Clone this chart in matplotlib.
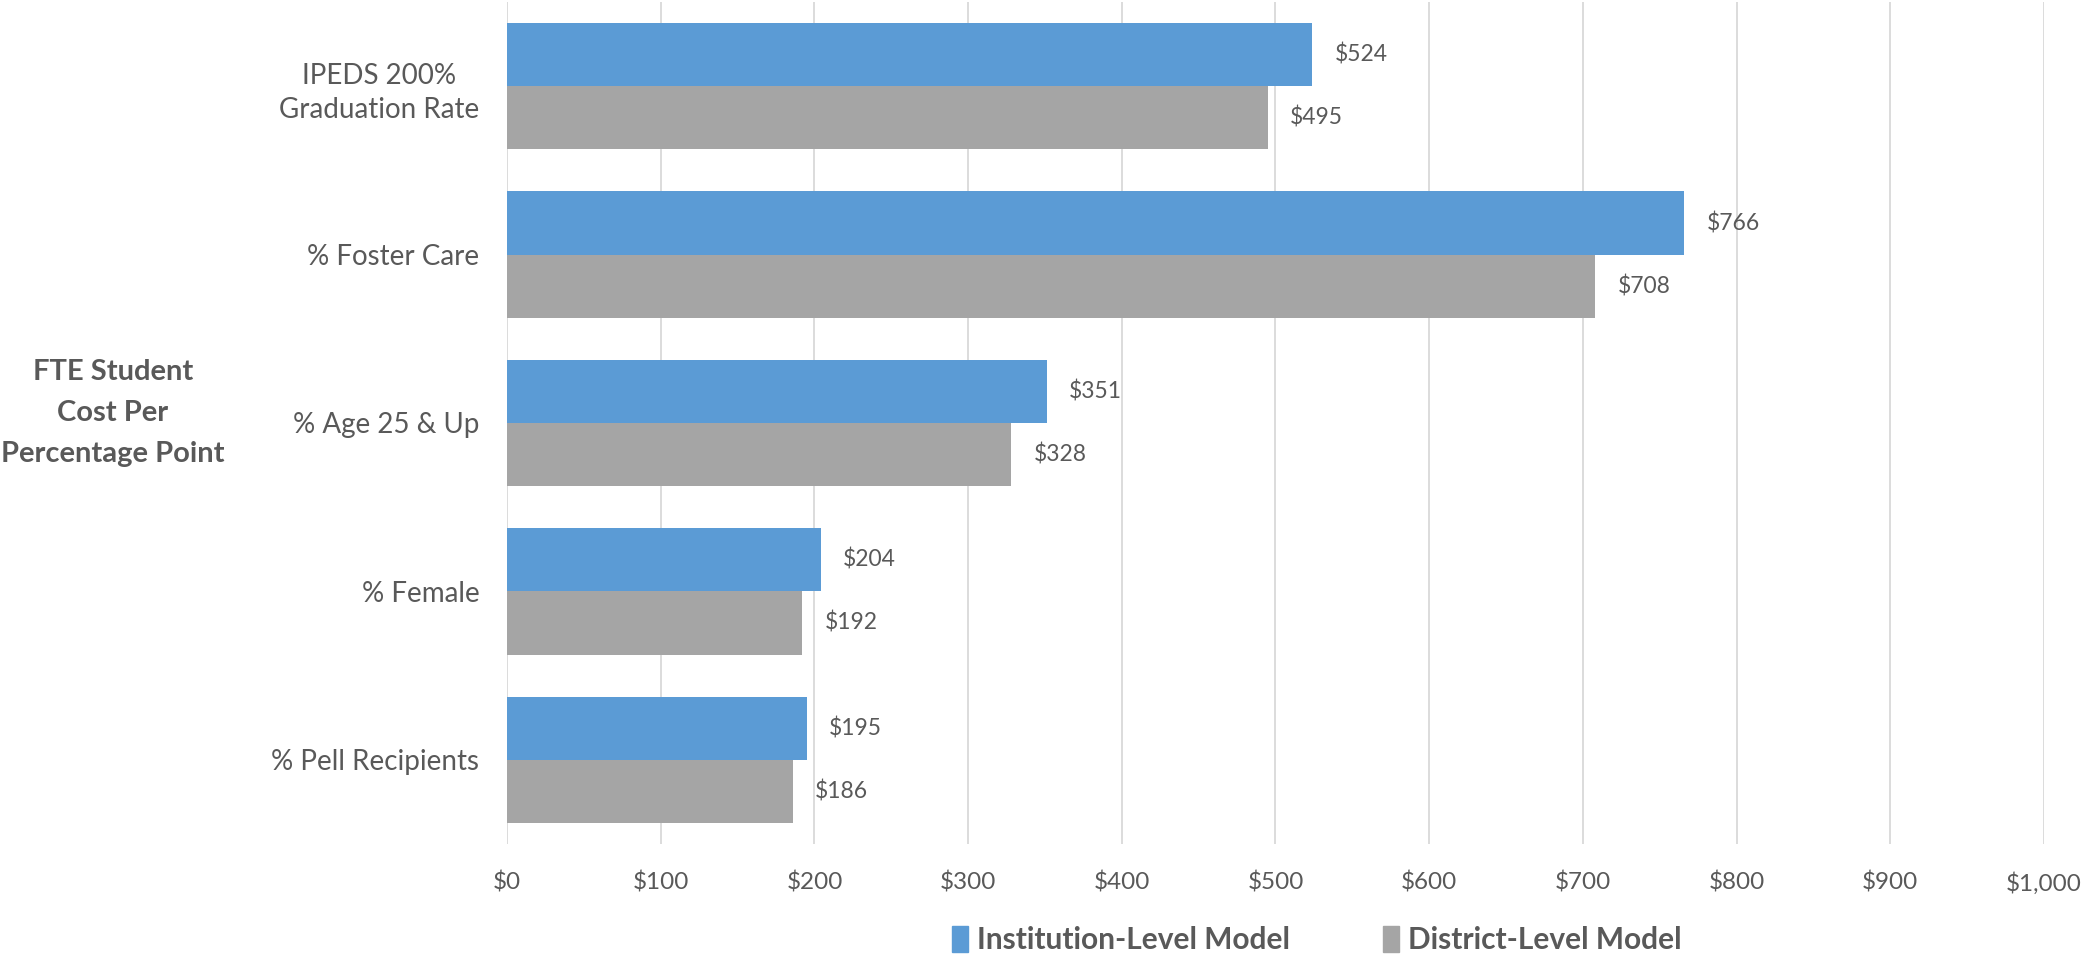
import matplotlib
matplotlib.use("Agg")
import matplotlib.pyplot as plt
from matplotlib.patches import Patch
import numpy as np

categories = ["IPEDS 200%\nGraduation Rate", "% Foster Care", "% Age 25 & Up", "% Female", "% Pell Recipients"]
institution = [524, 766, 351, 204, 195]
district = [495, 708, 328, 192, 186]
xticks = [0, 100, 200, 300, 400, 500, 600, 700, 800, 900, 1000]
xticklabels = ["$0", "$100", "$200", "$300", "$400", "$500", "$600", "$700", "$800", "$900", "$1,000"]
series_names = ["Institution-Level Model", "District-Level Model"]

plt.rcParams['font.family'] = ['Lato', 'DejaVu Sans']
BLUE = "#5B9BD5"
GRAY = "#A5A5A5"
TXT = "#595959"
GRID = "#D9D9D9"

fig = plt.figure(figsize=(20.85, 9.57), dpi=100)
ax = fig.add_axes([0.2432, 0.1181, 0.9803 - 0.2432, 0.9979 - 0.1181])

n = len(categories)
ypos = np.arange(n)[::-1].astype(float)
h = 0.375
b1 = ax.barh(ypos + h / 2, institution, height=h, color=BLUE, zorder=3)
b2 = ax.barh(ypos - h / 2, district, height=h, color=GRAY, zorder=3)

for bars, vals in ((b1, institution), (b2, district)):
    for bar, v in zip(bars, vals):
        ax.annotate(f"${v:,}", (v, bar.get_y() + bar.get_height() / 2),
                    xytext=(16, 0), textcoords="offset points",
                    ha="left", va="center", fontsize=16.5, color=TXT)

ax.set_xlim(0, 1000)
ax.set_ylim(-0.5, n - 0.5)
ax.set_xticks(xticks)
ax.set_xticklabels(xticklabels, fontsize=17.5, color=TXT)
ax.set_yticks(ypos)
ax.set_yticklabels(categories, fontsize=20, color=TXT, ha="right", multialignment="center",
                   linespacing=1.4)
ax.tick_params(axis="both", length=0)
ax.tick_params(axis="x", pad=20)
ax.tick_params(axis="y", pad=20)
ax.grid(axis="x", color=GRID, linewidth=1.3, zorder=0)
for s in ax.spines.values():
    s.set_visible(False)

fig.text(113 / 2085, 1 - 413 / 957, "FTE Student\nCost Per\nPercentage Point",
         ha="center", va="center", fontsize=21, fontweight="bold", color=TXT,
         linespacing=1.7)

handles = [Patch(color=BLUE), Patch(color=GRAY)]
leg = fig.legend(handles, series_names, loc="center", bbox_to_anchor=(0.6315, 1 - 940 / 957),
                 ncol=2, frameon=False, fontsize=21.5, handlelength=0.55, handleheight=0.95,
                 handletextpad=0.3, columnspacing=3.1)
for t in leg.get_texts():
    t.set_color(TXT)
    t.set_fontweight("bold")

fig.savefig("out.png", dpi=100)
